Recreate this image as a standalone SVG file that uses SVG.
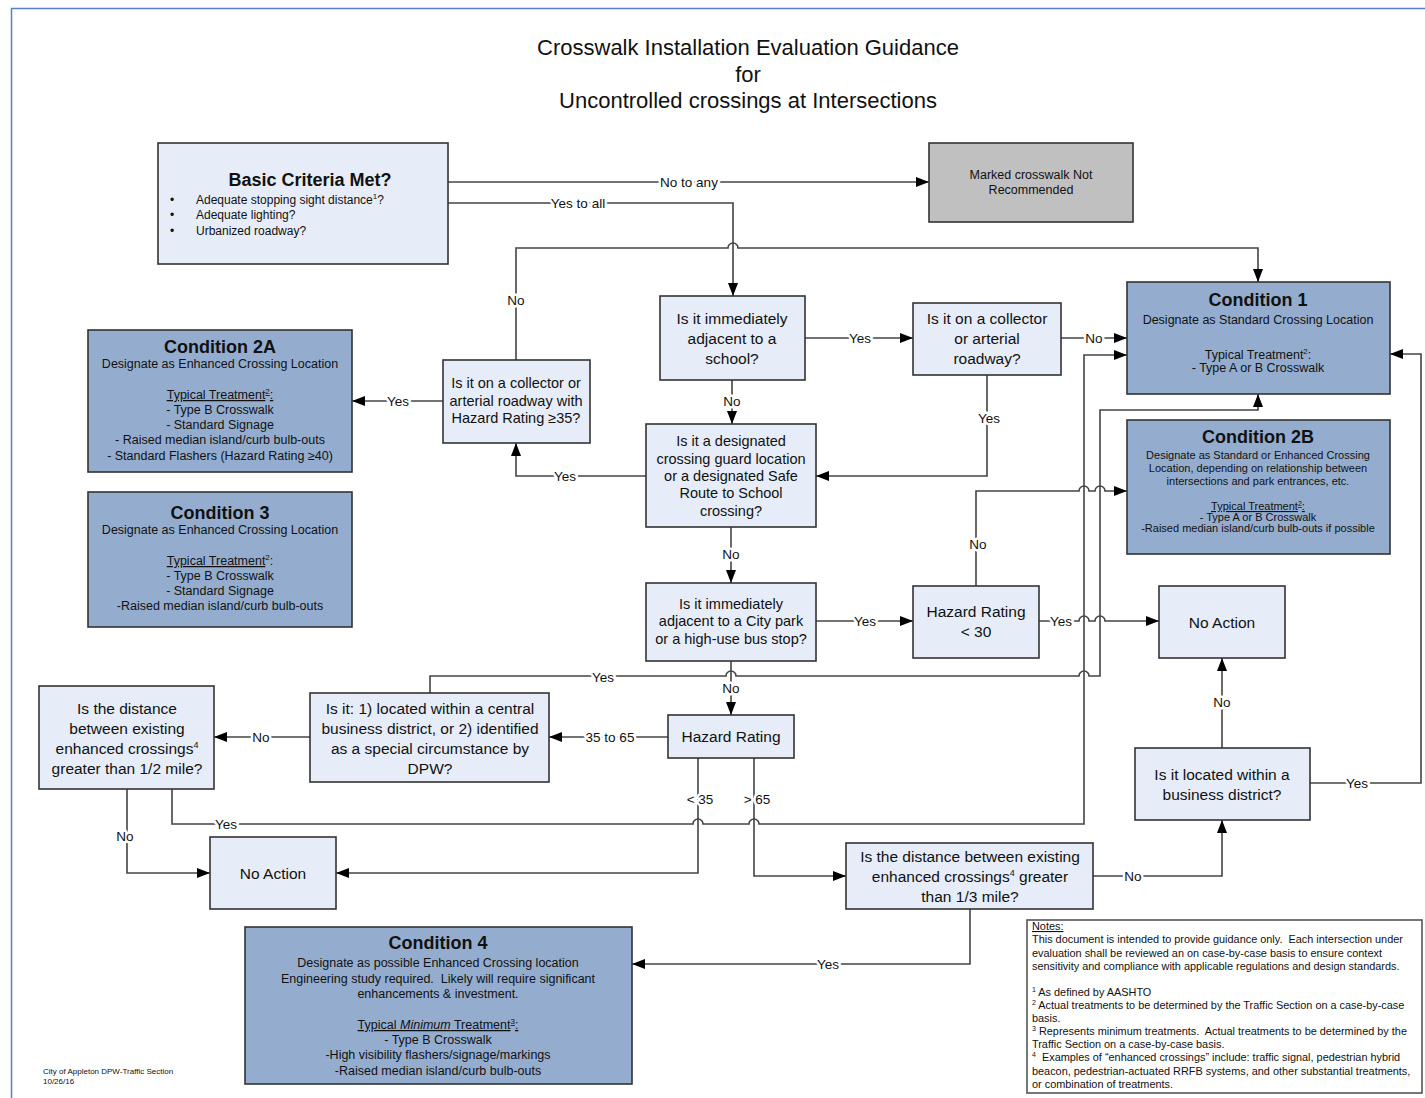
<svg xmlns="http://www.w3.org/2000/svg" width="1425" height="1098" viewBox="0 0 1425 1098">
<style>
text{font-family:"Liberation Sans",Arial,sans-serif;fill:#111}
.lt{fill:#e6edf8;stroke:#333;stroke-width:1.6}
.dk{fill:#94adcf;stroke:#333;stroke-width:1.6}
.gr{fill:#c0c0c0;stroke:#333;stroke-width:1.6}
.nt{fill:#fff;stroke:#555;stroke-width:1.6}
.q{font-size:15.5px;text-anchor:middle}
.qs{font-size:14.5px;text-anchor:middle}
.h{font-size:18px;font-weight:bold;text-anchor:middle}
.b{font-size:12.5px;text-anchor:middle}
.s{font-size:11px;text-anchor:middle}
.c path{fill:none;stroke:#444;stroke-width:1.6}
.c .a{marker-end:url(#ah)}
.lb{font-size:13.5px;text-anchor:middle;stroke:#fff;stroke-width:5;paint-order:stroke;stroke-linejoin:round}
.n{font-size:10.9px}
</style>
<defs>
<marker id="ah" markerWidth="13" markerHeight="10" refX="13" refY="5" orient="auto" markerUnits="userSpaceOnUse"><path d="M0,0 L13,5 L0,10 z" fill="#000" stroke="none"/></marker>
</defs>
<rect width="1425" height="1098" fill="#fff"/>
<path d="M11.5,1098 V8.5 H1425" fill="none" stroke="#5b7fc7" stroke-width="1.5"/>
<g id="title">
<text x="748" y="55" font-size="22" text-anchor="middle">Crosswalk Installation Evaluation Guidance</text>
<text x="748" y="82" font-size="22" text-anchor="middle">for</text>
<text x="748" y="108" font-size="22" text-anchor="middle">Uncontrolled crossings at Intersections</text>
</g>
<g class="c" id="connectors">
<path class="a" d="M448,182 H929"/>
<path class="a" d="M448,203 H733 V296"/>
<path class="a" d="M516,360 V248 H728 a5,5 0 0 1 10,0 H1258 V282"/>
<path class="a" d="M805,338 H913"/>
<path class="a" d="M1061,338 H1127"/>
<path class="a" d="M732,380 V424"/>
<path class="a" d="M987,375 V476 H816"/>
<path class="a" d="M646,476 H516 V443"/>
<path class="a" d="M443,401 H352"/>
<path class="a" d="M731,527 V583"/>
<path class="a" d="M816,621 H913"/>
<path class="a" d="M1039,621 H1079 a5,5 0 0 1 10,0 H1095 a5,5 0 0 1 10,0 H1159"/>
<path class="a" d="M976,586 V491 H1079 a5,5 0 0 1 10,0 H1095 a5,5 0 0 1 10,0 H1127"/>
<path class="a" d="M731,661 V715"/>
<path class="a" d="M430,693 V676 H726 a5,5 0 0 1 10,0 H1079 a5,5 0 0 1 10,0 H1100 V410 H1258 V394"/>
<path class="a" d="M172,789 V824 H693 a5,5 0 0 1 10,0 H749 a5,5 0 0 1 10,0 H1084 V355 H1127"/>
<path class="a" d="M668,737 H549"/>
<path class="a" d="M310,737 H214"/>
<path class="a" d="M127,789 V873 H210"/>
<path class="a" d="M698,758 V873 H336"/>
<path class="a" d="M754,758 V876 H846"/>
<path class="a" d="M1093,876 H1222 V820"/>
<path class="a" d="M1222,748 V658"/>
<path class="a" d="M1310,783 H1421 V354 H1390"/>
<path class="a" d="M970,909 V964 H632"/>
<text class="lb" x="689" y="187">No to any</text>
<text class="lb" x="578" y="208">Yes to all</text>
<text class="lb" x="516" y="305">No</text>
<text class="lb" x="860" y="343">Yes</text>
<text class="lb" x="1094" y="343">No</text>
<text class="lb" x="732" y="406">No</text>
<text class="lb" x="989" y="423">Yes</text>
<text class="lb" x="565" y="481">Yes</text>
<text class="lb" x="398" y="406">Yes</text>
<text class="lb" x="731" y="559">No</text>
<text class="lb" x="865" y="626">Yes</text>
<text class="lb" x="1061" y="626">Yes</text>
<text class="lb" x="978" y="549">No</text>
<text class="lb" x="731" y="693">No</text>
<text class="lb" x="603" y="682">Yes</text>
<text class="lb" x="226" y="829">Yes</text>
<text class="lb" x="610" y="742">35 to 65</text>
<text class="lb" x="261" y="742">No</text>
<text class="lb" x="125" y="841">No</text>
<text class="lb" x="700" y="804">&lt; 35</text>
<text class="lb" x="757" y="804">&gt; 65</text>
<text class="lb" x="1133" y="881">No</text>
<text class="lb" x="1222" y="707">No</text>
<text class="lb" x="1357" y="788">Yes</text>
<text class="lb" x="828" y="969">Yes</text>
</g>
<g id="basic">
<rect class="lt" x="158" y="143" width="290" height="121"/>
<text class="h" x="310" y="186">Basic Criteria Met?</text>
<g font-size="12">
<text x="170" y="204">•</text><text x="170" y="219">•</text><text x="170" y="235">•</text>
<text x="196" y="204">Adequate stopping sight distance<tspan font-size="8" dy="-5">1</tspan><tspan dy="5">?</tspan></text>
<text x="196" y="219">Adequate lighting?</text>
<text x="196" y="235">Urbanized roadway?</text>
</g>
</g>
<g id="notrec">
<rect class="gr" x="929" y="143" width="204" height="79"/>
<text class="b" x="1031" y="179" font-size="12">Marked crosswalk Not</text>
<text class="b" x="1031" y="194" font-size="12">Recommended</text>
</g>
<g id="school">
<rect class="lt" x="660" y="296" width="145" height="84"/>
<text class="q" x="732" y="324">Is it immediately</text>
<text class="q" x="732" y="344">adjacent to a</text>
<text class="q" x="732" y="364">school?</text>
</g>
<g id="collector">
<rect class="lt" x="913" y="303" width="148" height="72"/>
<text class="q" x="987" y="324">Is it on a collector</text>
<text class="q" x="987" y="344">or arterial</text>
<text class="q" x="987" y="364">roadway?</text>
</g>
<g id="cond1">
<rect class="dk" x="1127" y="282" width="263" height="112"/>
<text class="h" x="1258" y="306">Condition 1</text>
<text class="b" x="1258" y="324">Designate as Standard Crossing Location</text>
<text class="b" x="1258" y="359">Typical Treatment<tspan font-size="8" dy="-5">2</tspan><tspan dy="5">:</tspan></text>
<text class="b" x="1258" y="372">- Type A or B Crosswalk</text>
</g>
<g id="cond2a">
<rect class="dk" x="88" y="330" width="264" height="142"/>
<text class="h" x="220" y="353">Condition 2A</text>
<text class="b" x="220" y="368">Designate as Enhanced Crossing Location</text>
<text class="b" x="220" y="399" text-decoration="underline">Typical Treatment<tspan font-size="8" dy="-5">2</tspan><tspan dy="5">:</tspan></text>
<text class="b" x="220" y="414">- Type B Crosswalk</text>
<text class="b" x="220" y="429">- Standard Signage</text>
<text class="b" x="220" y="444">- Raised median island/curb bulb-outs</text>
<text class="b" x="220" y="460">- Standard Flashers (Hazard Rating ≥40)</text>
</g>
<g id="cond3">
<rect class="dk" x="88" y="492" width="264" height="135"/>
<text class="h" x="220" y="519">Condition 3</text>
<text class="b" x="220" y="534">Designate as Enhanced Crossing Location</text>
<text class="b" x="220" y="565"><tspan text-decoration="underline">Typical Treatment</tspan><tspan font-size="8" dy="-5">2</tspan><tspan dy="5">:</tspan></text>
<text class="b" x="220" y="580">- Type B Crosswalk</text>
<text class="b" x="220" y="595">- Standard Signage</text>
<text class="b" x="220" y="610">-Raised median island/curb bulb-outs</text>
</g>
<g id="hazard35">
<rect class="lt" x="443" y="360" width="147" height="83"/>
<text class="qs" x="516" y="388">Is it on a collector or</text>
<text class="qs" x="516" y="406">arterial roadway with</text>
<text class="qs" x="516" y="423">Hazard Rating ≥35?</text>
</g>
<g id="guard">
<rect class="lt" x="646" y="424" width="170" height="103"/>
<text class="qs" x="731" y="446">Is it a designated</text>
<text class="qs" x="731" y="464">crossing guard location</text>
<text class="qs" x="731" y="481">or a designated Safe</text>
<text class="qs" x="731" y="498">Route to School</text>
<text class="qs" x="731" y="516">crossing?</text>
</g>
<g id="cond2b">
<rect class="dk" x="1127" y="420" width="263" height="134"/>
<text class="h" x="1258" y="443">Condition 2B</text>
<text class="s" x="1258" y="459">Designate as Standard or Enhanced Crossing</text>
<text class="s" x="1258" y="472">Location, depending on relationship between</text>
<text class="s" x="1258" y="485">intersections and park entrances, etc.</text>
<text class="s" x="1258" y="510" text-decoration="underline">Typical Treatment<tspan font-size="7" dy="-4">2</tspan><tspan dy="4">:</tspan></text>
<text class="s" x="1258" y="521">- Type A or B Crosswalk</text>
<text class="s" x="1258" y="532">-Raised median island/curb bulb-outs if possible</text>
</g>
<g id="park">
<rect class="lt" x="646" y="583" width="170" height="78"/>
<text class="qs" x="731" y="609">Is it immediately</text>
<text class="qs" x="731" y="626">adjacent to a City park</text>
<text class="qs" x="731" y="644">or a high-use bus stop?</text>
</g>
<g id="hazard30">
<rect class="lt" x="913" y="586" width="126" height="72"/>
<text class="q" x="976" y="617" font-size="16">Hazard Rating</text>
<text class="q" x="976" y="637" font-size="16">&lt; 30</text>
</g>
<g id="noaction1">
<rect class="lt" x="1159" y="586" width="126" height="72"/>
<text class="q" x="1222" y="628" font-size="17.5">No Action</text>
</g>
<g id="half">
<rect class="lt" x="39" y="686" width="175" height="103"/>
<text class="q" x="127" y="714">Is the distance</text>
<text class="q" x="127" y="734">between existing</text>
<text class="q" x="127" y="754">enhanced crossings<tspan font-size="9" dy="-6">4</tspan></text>
<text class="q" x="127" y="774">greater than 1/2 mile?</text>
</g>
<g id="cbd">
<rect class="lt" x="310" y="693" width="239" height="89"/>
<text class="q" x="430" y="714">Is it: 1) located within a central</text>
<text class="q" x="430" y="734">business district, or 2) identified</text>
<text class="q" x="430" y="754">as a special circumstance by</text>
<text class="q" x="430" y="774">DPW?</text>
</g>
<g id="hazard">
<rect class="lt" x="668" y="715" width="126" height="43"/>
<text class="q" x="731" y="742">Hazard Rating</text>
</g>
<g id="business">
<rect class="lt" x="1135" y="748" width="175" height="72"/>
<text class="q" x="1222" y="780">Is it located within a</text>
<text class="q" x="1222" y="800">business district?</text>
</g>
<g id="noaction2">
<rect class="lt" x="210" y="837" width="126" height="72"/>
<text class="q" x="273" y="879" font-size="17.5">No Action</text>
</g>
<g id="third">
<rect class="lt" x="846" y="843" width="247" height="66"/>
<text class="q" x="970" y="862">Is the distance between existing</text>
<text class="q" x="970" y="882">enhanced crossings<tspan font-size="9" dy="-6">4</tspan><tspan dy="6"> greater</tspan></text>
<text class="q" x="970" y="902">than 1/3 mile?</text>
</g>
<g id="cond4">
<rect class="dk" x="245" y="927" width="387" height="157"/>
<text class="h" x="438" y="949">Condition 4</text>
<text class="b" x="438" y="967" font-size="12.8">Designate as possible Enhanced Crossing location</text>
<text class="b" x="438" y="983" font-size="12.8" xml:space="preserve">Engineering study required.  Likely will require significant</text>
<text class="b" x="438" y="998" font-size="12.8">enhancements &amp; investment.</text>
<text class="b" x="438" y="1029" font-size="12.8" text-decoration="underline">Typical <tspan font-style="italic">Minimum</tspan> Treatment<tspan font-size="8" dy="-5">3</tspan><tspan dy="5">:</tspan></text>
<text class="b" x="438" y="1044" font-size="12.8">- Type B Crosswalk</text>
<text class="b" x="438" y="1059" font-size="12.8">-High visibility flashers/signage/markings</text>
<text class="b" x="438" y="1075" font-size="12.8">-Raised median island/curb bulb-outs</text>
</g>
<g id="notes">
<rect class="nt" x="1027" y="920" width="395" height="173"/>
<text class="n" x="1032" y="930" text-decoration="underline">Notes:</text>
<text class="n" x="1032" y="943" xml:space="preserve">This document is intended to provide guidance only.  Each intersection under</text>
<text class="n" x="1032" y="957">evaluation shall be reviewed an on case-by-case basis to ensure context</text>
<text class="n" x="1032" y="970">sensitivity and compliance with applicable regulations and design standards.</text>
<text class="n" x="1032" y="996"><tspan font-size="7" dy="-4">1</tspan><tspan dy="4"> As defined by AASHTO</tspan></text>
<text class="n" x="1032" y="1009"><tspan font-size="7" dy="-4">2</tspan><tspan dy="4"> Actual treatments to be determined by the Traffic Section on a case-by-case</tspan></text>
<text class="n" x="1032" y="1022">basis.</text>
<text class="n" x="1032" y="1035"><tspan font-size="7" dy="-4">3</tspan><tspan dy="4" xml:space="preserve"> Represents minimum treatments.  Actual treatments to be determined by the</tspan></text>
<text class="n" x="1032" y="1048">Traffic Section on a case-by-case basis.</text>
<text class="n" x="1032" y="1061" xml:space="preserve"><tspan font-size="7" dy="-4">4</tspan><tspan dy="4">  Examples of “enhanced crossings” include: traffic signal, pedestrian hybrid</tspan></text>
<text class="n" x="1032" y="1075">beacon, pedestrian-actuated RRFB systems, and other substantial treatments,</text>
<text class="n" x="1032" y="1088">or combination of treatments.</text>
</g>
<g id="footer">
<text x="43" y="1074" font-size="8">City of Appleton DPW-Traffic Section</text>
<text x="43" y="1084" font-size="8">10/26/16</text>
</g>
</svg>
